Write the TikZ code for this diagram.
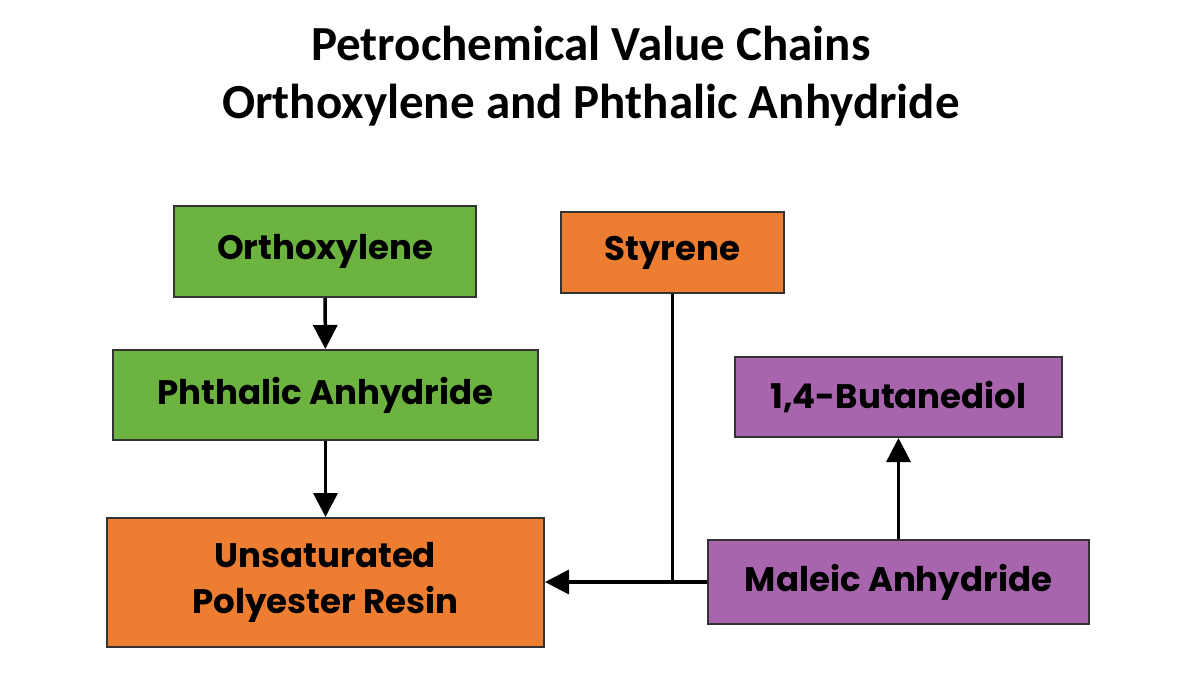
\documentclass[tikz,border=0pt]{standalone}
\usepackage{fontspec}
\setmainfont{Carlito}
\newfontfamily\boxfont{Poppins}
\usetikzlibrary{arrows.meta}
\definecolor{gr}{HTML}{6DB33F}
\definecolor{orq}{HTML}{ED7D31}
\definecolor{pu}{HTML}{A864AD}
\begin{document}
\begin{tikzpicture}[x=1pt,y=-1pt,
 bx/.style={draw=black!80,line width=2pt,font=\boxfont\fontsize{34}{46}\selectfont\bfseries,align=center,inner sep=0pt},
 ar/.style={line width=3.5pt,-{Triangle[length=24pt,width=24pt]}}]
\useasboundingbox (0,0) rectangle (1183,695);
\node[font=\fontsize{49}{58}\selectfont\bfseries,align=center] (t) at (591,76) {Petrochemical Value Chains\\Orthoxylene and Phthalic Anhydride};
\node[bx,fill=gr,minimum width=302pt,minimum height=91pt] (o) at (325,251.5) {Orthoxylene};
\node[bx,fill=gr,minimum width=425pt,minimum height=90pt] (p) at (325.5,395) {Phthalic Anhydride};
\node[bx,fill=orq,minimum width=437pt,minimum height=129pt] (u) at (325.5,582.5) {Unsaturated\\Polyester Resin};
\node[bx,fill=orq,minimum width=223pt,minimum height=81pt] (s) at (672.5,252.5) {Styrene};
\node[bx,fill=pu,minimum width=327pt,minimum height=80pt] (b) at (898.5,397) {1,4-Butanediol};
\node[bx,fill=pu,minimum width=381pt,minimum height=84pt] (m) at (898.5,582) {Maleic Anhydride};
\coordinate (j) at (s.south |- m.west);
\draw[ar] (o) -- (p);
\draw[ar] (p) -- (u);
\draw[ar] (m.west) -- (u.east |- m.west);
\draw[line width=3.5pt] (s.south) -- (j);
\draw[ar] (m.north) -- (b.south);
\end{tikzpicture}
\end{document}
